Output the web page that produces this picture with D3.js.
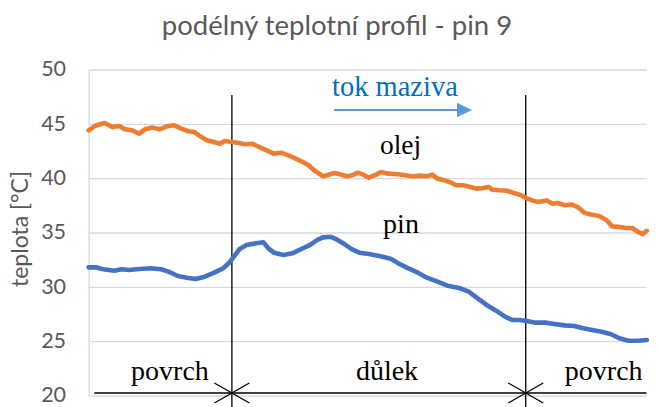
<!DOCTYPE html>
<html>
<head>
<meta charset="utf-8">
<script src="https://cdn.jsdelivr.net/npm/d3@7"></script>
<style>
  html, body { margin: 0; padding: 0; background: #fff; }
  svg { display: block; }
</style>
</head>
<body>
<svg id="chart" width="657" height="407"></svg>
<script>
// Longitudinal temperature profile along pin 9 (position in % of measured length)
const oilPos = [0, 1.3, 2.9, 4.2, 5.5, 6.5, 7.8, 9.1, 10.1, 11.4, 12.7, 14.0, 15.3, 16.6, 17.9, 18.9,
  20.2, 21.2, 22.5, 23.5, 24.4, 25.7, 26.7, 28.0, 29.3, 30.6, 31.9, 33.2, 34.5, 35.8, 37.1, 38.4,
  39.4, 40.4, 42.0, 42.7, 44.0, 45.0, 46.3, 47.2, 48.2, 49.2, 50.2, 51.5, 52.4, 53.7, 55.4, 56.7,
  58.0, 59.3, 60.6, 61.6, 62.5, 63.8, 65.1, 65.8, 67.1, 68.4, 69.4, 70.7, 71.7, 72.3, 73.6, 74.9,
  76.2, 77.5, 78.3, 79.5, 80.5, 82.1, 83.1, 84.0, 85.3, 86.6, 87.6, 88.9, 90.2, 91.5, 92.8, 93.8,
  95.1, 96.4, 97.4, 98.4, 99.3, 100];
const oilTemp = [44.45, 44.9, 45.12, 44.75, 44.85, 44.54, 44.45, 44.14, 44.54, 44.7, 44.54, 44.82,
  44.91, 44.6, 44.36, 44.3, 43.83, 43.53, 43.37, 43.22, 43.47, 43.37, 43.31, 43.16, 43.22, 42.91,
  42.61, 42.3, 42.39, 42.15, 41.84, 41.53, 41.23, 40.77, 40.22, 40.31, 40.52, 40.4, 40.22, 40.31,
  40.55, 40.37, 40.09, 40.37, 40.61, 40.46, 40.4, 40.31, 40.22, 40.28, 40.22, 40.37, 40.0, 39.85,
  39.6, 39.39, 39.39, 39.23, 39.08, 39.14, 39.23, 38.99, 38.93, 38.9, 38.68, 38.47, 38.22, 38.0,
  37.85, 38.0, 37.7, 37.76, 37.55, 37.61, 37.39, 36.84, 36.69, 36.56, 36.17, 35.61, 35.55, 35.46,
  35.46, 35.1, 34.9, 35.2];

const pinPos = [0, 1.3, 2.6, 4.6, 5.9, 7.2, 9.1, 11.1, 13.0, 14.3, 16.0, 17.6, 19.2, 20.8, 22.5,
  24.1, 25.1, 26.1, 27.0, 28.3, 30.0, 31.3, 32.2, 33.2, 34.9, 36.5, 38.1, 39.7, 41.0, 42.0, 43.3,
  44.6, 45.9, 47.2, 48.5, 50.2, 52.1, 54.1, 55.7, 57.3, 59.0, 60.6, 62.5, 64.5, 66.4, 68.1, 69.7,
  71.3, 73.0, 74.6, 75.9, 77.2, 78.5, 80.1, 81.8, 83.4, 85.3, 87.0, 88.6, 90.2, 91.9, 93.5, 95.1,
  96.7, 98.4, 100];
const pinTemp = [31.84, 31.84, 31.66, 31.53, 31.66, 31.6, 31.69, 31.75, 31.66, 31.44, 31.04, 30.89,
  30.77, 30.98, 31.35, 31.75, 32.21, 32.88, 33.5, 33.9, 34.05, 34.14, 33.59, 33.19, 32.98, 33.13,
  33.53, 33.9, 34.36, 34.6, 34.66, 34.36, 33.96, 33.5, 33.19, 33.07, 32.88, 32.64, 32.15, 31.75,
  31.35, 30.89, 30.52, 30.12, 29.94, 29.6, 28.99, 28.38, 27.85, 27.3, 27.0, 27.0, 26.9, 26.75,
  26.75, 26.63, 26.5, 26.44, 26.23, 26.07, 25.92, 25.71, 25.31, 25.09, 25.09, 25.15];

const yTicks = [20, 25, 30, 35, 40, 45, 50];
const sectionEdges = [25.67, 78.31];                 // surface | dimple | surface
const sectionNames = ["povrch", "důlek", "povrch"];
const title = "podélný teplotní profil - pin 9";
const yTitle = "teplota [°C]";
const flowLabel = "tok maziva";
const seriesNames = ["olej", "pin"];

const svg = d3.select("#chart");
const W = 657, H = 407;
const plot = { left: 88.6, right: 646.8, top: 70, bottom: 396 };

const x = d3.scaleLinear().domain([0, 100]).range([plot.left, plot.right]);
const y = d3.scaleLinear().domain([20, 50]).range([plot.bottom, plot.top]);

const grey = "#595959";
const sans = "Lato, 'Open Sans', sans-serif";
const serif = "'Liberation Serif', 'Times New Roman', serif";

// title
svg.append("text")
  .attr("x", 337).attr("y", 35)
  .attr("text-anchor", "middle")
  .attr("font-family", sans).attr("font-size", 27.5)
  .attr("fill", grey)
  .text(title);

// horizontal gridlines
svg.append("g")
  .selectAll("line")
  .data(yTicks)
  .join("line")
  .attr("x1", plot.left).attr("x2", plot.right)
  .attr("y1", d => y(d)).attr("y2", d => y(d))
  .attr("stroke", "#d9d9d9").attr("stroke-width", 1.3);

// value axis
const yAxis = d3.axisLeft(y).tickValues(yTicks).tickSize(0).tickPadding(22.5);
const gy = svg.append("g").attr("transform", `translate(${plot.left},0)`).call(yAxis);
gy.select(".domain").attr("stroke", "#d9d9d9").attr("stroke-width", 1.3);
gy.selectAll("text")
  .attr("font-family", sans).attr("font-size", 21.5)
  .attr("dy", "0.27em")
  .attr("fill", grey);

svg.append("text")
  .attr("transform", `translate(28,229) rotate(-90)`)
  .attr("text-anchor", "middle")
  .attr("font-family", sans).attr("font-size", 23)
  .attr("fill", grey)
  .text(yTitle);

// section boundaries
svg.append("g")
  .selectAll("line")
  .data(sectionEdges)
  .join("line")
  .attr("x1", d => x(d)).attr("x2", d => x(d))
  .attr("y1", 95).attr("y2", H)
  .attr("stroke", "#000").attr("stroke-width", 1.3);

// series lines
const line = d3.line().x(d => x(d[0])).y(d => y(d[1]));
const series = [
  { name: seriesNames[0], pos: oilPos, temp: oilTemp, color: "#ED7D31" },
  { name: seriesNames[1], pos: pinPos, temp: pinTemp, color: "#4472C4" }
];
svg.append("g")
  .selectAll("path")
  .data(series)
  .join("path")
  .attr("d", s => line(d3.zip(s.pos, s.temp)))
  .attr("fill", "none")
  .attr("stroke", s => s.color)
  .attr("stroke-width", 4.6)
  .attr("stroke-linejoin", "round")
  .attr("stroke-linecap", "round");

// series labels
svg.append("text").attr("x", 400.5).attr("y", 154)
  .attr("text-anchor", "middle").attr("font-family", serif).attr("font-size", 27.5)
  .attr("fill", "#000").text(seriesNames[0]);
svg.append("text").attr("x", 401).attr("y", 233)
  .attr("text-anchor", "middle").attr("font-family", serif).attr("font-size", 28)
  .attr("fill", "#000").text(seriesNames[1]);

// lubricant flow direction
svg.append("text").attr("x", 332).attr("y", 96)
  .attr("font-family", serif).attr("font-size", 28.5)
  .attr("fill", "#0070C0").text(flowLabel);
svg.append("line")
  .attr("x1", 334).attr("x2", 460).attr("y1", 110).attr("y2", 110)
  .attr("stroke", "#5B9BD5").attr("stroke-width", 2);
svg.append("path")
  .attr("d", "M457,102.7 L472,110 L457,117.3 Z")
  .attr("fill", "#5B9BD5");

// section extents along the bottom
const baseY = 393;
const xEnds = [94.3, x(sectionEdges[0]), x(sectionEdges[1]), 646.5];
svg.append("line")
  .attr("x1", xEnds[0]).attr("x2", xEnds[3]).attr("y1", baseY).attr("y2", baseY)
  .attr("stroke", "#000").attr("stroke-width", 1.3);
const arm = { dx: 17.5, dy: 10 };
svg.append("g")
  .selectAll("path")
  .data(sectionEdges)
  .join("path")
  .attr("d", d => {
    const cx = x(d);
    return `M${cx - arm.dx},${baseY - arm.dy} L${cx + arm.dx},${baseY + arm.dy} ` +
           `M${cx - arm.dx},${baseY + arm.dy} L${cx + arm.dx},${baseY - arm.dy}`;
  })
  .attr("fill", "none").attr("stroke", "#000").attr("stroke-width", 1.3);

const labelX = [170, 387, 603.7];
svg.append("g")
  .selectAll("text")
  .data(sectionNames)
  .join("text")
  .attr("x", (d, i) => labelX[i]).attr("y", 380)
  .attr("text-anchor", "middle")
  .attr("font-family", serif).attr("font-size", 28)
  .attr("fill", "#000")
  .text(d => d);
</script>
</body>
</html>
